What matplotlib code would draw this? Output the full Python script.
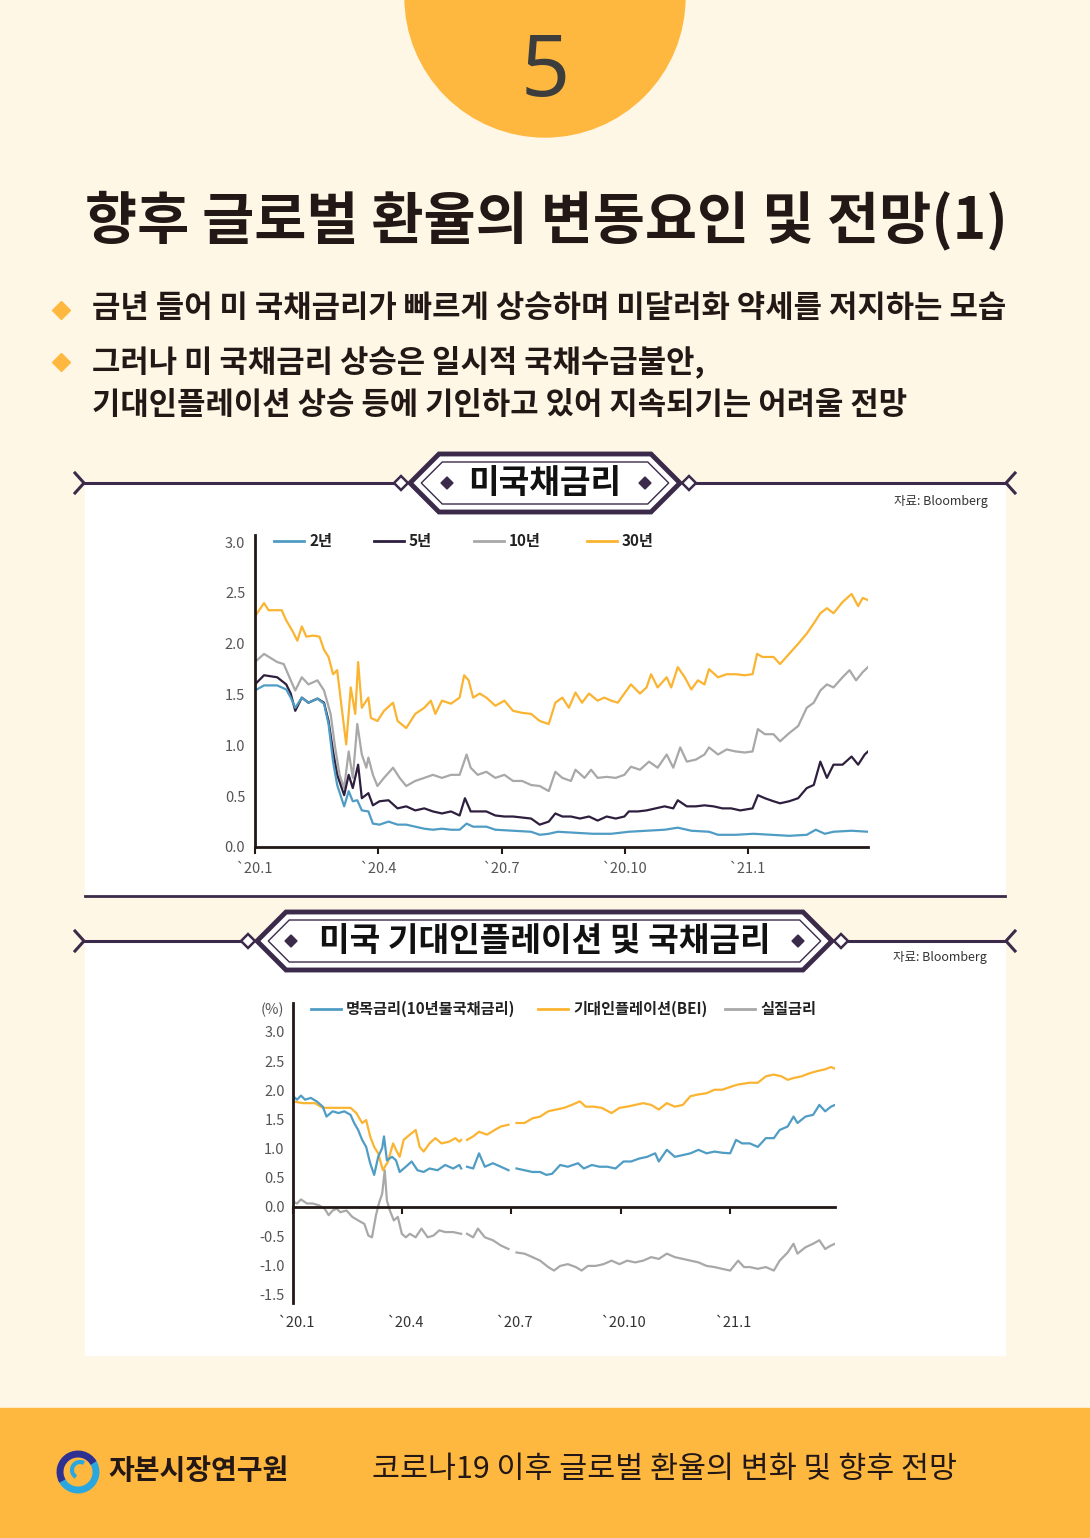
import numpy as np
import matplotlib.pyplot as plt
import matplotlib.patches as patches

plt.rcParams['font.family'] = ['Noto Sans CJK KR', 'DejaVu Sans']

W, H = 1090, 1538
nan = np.nan

# ---- 미국채금리 (months since Jan 2020) ----
m30 = [0, 0.22, 0.33, 0.49, 0.65, 0.76, 0.92, 1.03, 1.14, 1.25, 1.41, 1.57, 1.68, 1.79, 1.90, 2.00, 2.11, 2.22, 2.33, 2.44,
       2.51, 2.60, 2.76, 2.82, 2.98, 3.14, 3.36, 3.47, 3.68, 3.90, 4.12, 4.28, 4.39, 4.55, 4.77, 4.98, 5.09, 5.20, 5.31, 5.47,
       5.63, 5.85, 6.07, 6.28, 6.50, 6.72, 6.93, 7.15, 7.31, 7.48, 7.64, 7.80, 7.96, 8.13, 8.34, 8.50, 8.67, 8.83, 8.99, 9.15,
       9.37, 9.53, 9.64, 9.80, 10.02, 10.13, 10.29, 10.46, 10.62, 10.78, 10.94, 11.05, 11.27, 11.48, 11.70, 11.92, 12.11, 12.22,
       12.35, 12.62, 12.78, 13.00, 13.22, 13.43, 13.60, 13.76, 13.92, 14.08, 14.30, 14.52, 14.68, 14.79, 14.92]
y30 = [2.27, 2.40, 2.33, 2.33, 2.33, 2.23, 2.12, 2.03, 2.17, 2.07, 2.08, 2.07, 1.94, 1.87, 1.70, 1.74, 1.37, 1.01, 1.57, 1.31,
       1.82, 1.37, 1.47, 1.27, 1.24, 1.34, 1.42, 1.24, 1.17, 1.31, 1.37, 1.44, 1.31, 1.44, 1.41, 1.47, 1.69, 1.64, 1.47, 1.51,
       1.47, 1.39, 1.44, 1.34, 1.32, 1.31, 1.24, 1.21, 1.42, 1.47, 1.37, 1.52, 1.42, 1.51, 1.44, 1.47, 1.44, 1.42, 1.51, 1.60,
       1.51, 1.57, 1.70, 1.57, 1.67, 1.57, 1.77, 1.67, 1.55, 1.64, 1.60, 1.75, 1.67, 1.70, 1.70, 1.69, 1.70, 1.90,
       1.87, 1.87, 1.80, 1.90, 2.00, 2.10, 2.20, 2.30, 2.35, 2.30, 2.41, 2.49, 2.37, 2.45, 2.43]

m10 = [0, 0.22, 0.54, 0.70, 0.87, 0.98, 1.14, 1.30, 1.52, 1.68, 1.84, 1.95, 2.06, 2.17, 2.28, 2.38, 2.49, 2.60, 2.71, 2.76,
       2.87, 2.98, 3.14, 3.36, 3.52, 3.68, 3.90, 4.12, 4.33, 4.55, 4.77, 4.98, 5.15, 5.25, 5.42, 5.63, 5.85, 6.07, 6.28, 6.50,
       6.72, 6.93, 7.15, 7.31, 7.48, 7.69, 7.80, 8.02, 8.18, 8.34, 8.56, 8.78, 8.99, 9.15, 9.37, 9.59, 9.80, 10.02, 10.18, 10.35,
       10.51, 10.73, 10.94, 11.05, 11.27, 11.48, 11.70, 11.92, 12.11, 12.24, 12.41, 12.62, 12.78, 13.00, 13.22, 13.43, 13.60,
       13.76, 13.92, 14.08, 14.30, 14.47, 14.63, 14.79, 14.92]
y10 = [1.82, 1.90, 1.82, 1.80, 1.64, 1.54, 1.67, 1.60, 1.64, 1.54, 1.31, 0.98, 0.71, 0.58, 0.94, 0.68, 1.21, 0.91, 0.78, 0.88,
       0.71, 0.60, 0.68, 0.78, 0.68, 0.60, 0.65, 0.68, 0.71, 0.68, 0.71, 0.71, 0.91, 0.78, 0.71, 0.74, 0.68, 0.71, 0.65, 0.65,
       0.61, 0.60, 0.55, 0.74, 0.68, 0.65, 0.76, 0.68, 0.76, 0.68, 0.69, 0.68, 0.71, 0.79, 0.76, 0.84, 0.78, 0.91, 0.78, 0.98,
       0.84, 0.86, 0.91, 0.98, 0.91, 0.96, 0.94, 0.93, 0.94, 1.16, 1.11, 1.11, 1.04, 1.12, 1.19, 1.37, 1.42,
       1.54, 1.60, 1.57, 1.67, 1.74, 1.64, 1.72, 1.77]

m5 = [0, 0.22, 0.54, 0.76, 0.87, 0.98, 1.14, 1.30, 1.52, 1.68, 1.79, 1.90, 2.00, 2.17, 2.28, 2.38, 2.51, 2.60, 2.76, 2.87,
      3.03, 3.25, 3.47, 3.68, 3.90, 4.12, 4.33, 4.55, 4.77, 4.98, 5.11, 5.25, 5.42, 5.63, 5.85, 6.07, 6.28, 6.50, 6.72, 6.93,
      7.15, 7.31, 7.48, 7.69, 7.91, 8.13, 8.34, 8.56, 8.78, 8.99, 9.10, 9.32, 9.53, 9.75, 9.97, 10.18, 10.29, 10.51, 10.73, 10.94,
      11.16, 11.38, 11.59, 11.81, 12.11, 12.24, 12.41, 12.62, 12.78, 13.00, 13.22, 13.43, 13.60, 13.76, 13.92, 14.08, 14.30,
      14.52, 14.68, 14.84, 14.92]
y5 = [1.60, 1.69, 1.67, 1.60, 1.51, 1.34, 1.47, 1.42, 1.46, 1.42, 1.24, 0.94, 0.71, 0.51, 0.71, 0.58, 0.81, 0.48, 0.53, 0.41,
      0.45, 0.46, 0.38, 0.40, 0.36, 0.38, 0.35, 0.33, 0.35, 0.31, 0.48, 0.35, 0.35, 0.35, 0.31, 0.30, 0.30, 0.29, 0.28, 0.22,
      0.25, 0.33, 0.30, 0.30, 0.28, 0.30, 0.26, 0.30, 0.28, 0.30, 0.35, 0.35, 0.36, 0.38, 0.40, 0.38, 0.46, 0.40, 0.40, 0.41,
      0.40, 0.38, 0.38, 0.36, 0.38, 0.51, 0.48, 0.45, 0.43, 0.45, 0.48, 0.58, 0.61, 0.84, 0.68, 0.81, 0.81,
      0.89, 0.81, 0.91, 0.94]

m2 = [0, 0.22, 0.54, 0.76, 0.87, 0.98, 1.14, 1.30, 1.52, 1.68, 1.79, 1.90, 2.00, 2.17, 2.28, 2.38, 2.49, 2.60, 2.76, 2.87,
      3.03, 3.25, 3.47, 3.68, 3.90, 4.12, 4.33, 4.55, 4.77, 4.98, 5.15, 5.31, 5.63, 5.85, 6.28, 6.72, 6.93, 7.15, 7.37, 7.80,
      8.23, 8.67, 9.10, 9.53, 9.97, 10.29, 10.62, 11.05, 11.27, 11.70, 12.13, 12.57, 13.00, 13.43, 13.65, 13.87, 14.08, 14.52, 14.92]
y2 = [1.54, 1.59, 1.59, 1.55, 1.47, 1.37, 1.47, 1.42, 1.46, 1.41, 1.21, 0.84, 0.61, 0.40, 0.55, 0.45, 0.46, 0.36, 0.35, 0.23,
      0.22, 0.25, 0.22, 0.22, 0.20, 0.18, 0.17, 0.18, 0.17, 0.17, 0.23, 0.20, 0.20, 0.17, 0.16, 0.15, 0.12, 0.13, 0.15, 0.14,
      0.13, 0.13, 0.15, 0.16, 0.17, 0.19, 0.16, 0.15, 0.12, 0.12, 0.13, 0.12, 0.11, 0.12, 0.17, 0.13, 0.15, 0.16, 0.15]

# ---- 미국 기대인플레이션 및 국채금리 ----
m_nom = [0, 0.11, 0.22, 0.33, 0.49, 0.65, 0.82, 0.92, 1.09, 1.25, 1.41, 1.58, 1.68, 1.79, 1.90, 2.01, 2.12, 2.23, 2.34, 2.45,
         2.50, 2.58, 2.72, 2.83, 2.93, 3.10, 3.26, 3.42, 3.59, 3.75, 3.97, 4.18, 4.40, 4.57, 4.62, 4.70, 4.78, 4.95, 5.11, 5.27,
         5.49, 5.71, 5.92, 6.03, 6.14, 6.36, 6.58, 6.79, 6.96, 7.12, 7.34, 7.55, 7.83, 7.99, 8.21, 8.42, 8.64, 8.86, 9.08, 9.29,
         9.51, 9.73, 9.95, 10.05, 10.27, 10.49, 10.71, 10.92, 11.14, 11.36, 11.58, 11.79, 12.01, 12.17, 12.34, 12.55, 12.77,
         12.99, 13.21, 13.37, 13.59, 13.75, 13.86, 14.08, 14.29, 14.46, 14.62, 14.78, 14.89]
nominal = [1.90, 1.84, 1.91, 1.84, 1.87, 1.81, 1.72, 1.55, 1.64, 1.61, 1.64, 1.58, 1.44, 1.32, 1.15, 1.03, 0.75, 0.55, 0.86, 1.01,
           1.21, 0.80, 0.86, 0.80, 0.60, 0.69, 0.78, 0.63, 0.60, 0.66, 0.63, 0.72, 0.66, 0.72, 0.66, nan, 0.69, 0.66, 0.92, 0.69,
           0.75, 0.69, 0.63, nan, 0.66, 0.63, 0.60, 0.60, 0.55, 0.57, 0.72, 0.69, 0.75, 0.66, 0.72, 0.69, 0.69, 0.66, 0.78, 0.78,
           0.83, 0.86, 0.92, 0.78, 0.98, 0.86, 0.89, 0.92, 0.98, 0.92, 0.95, 0.93, 0.92, 1.15, 1.09, 1.09, 1.03,
           1.18, 1.18, 1.32, 1.38, 1.55, 1.44, 1.55, 1.58, 1.75, 1.64, 1.72, 1.75]

m_bei = [0, 0.27, 0.60, 0.82, 1.14, 1.58, 1.74, 1.90, 2.01, 2.12, 2.23, 2.34, 2.47, 2.61, 2.75, 2.83, 2.93, 3.04, 3.21, 3.37,
         3.48, 3.59, 3.75, 3.91, 4.08, 4.29, 4.46, 4.57, 4.62, 4.70, 4.78, 4.95, 5.11, 5.33, 5.54, 5.71, 5.92, 6.03, 6.14, 6.36,
         6.58, 6.79, 7.01, 7.23, 7.45, 7.66, 7.88, 8.04, 8.26, 8.48, 8.75, 8.97, 9.18, 9.40, 9.62, 9.84, 10.05, 10.27, 10.49,
         10.71, 10.92, 11.14, 11.36, 11.58, 11.79, 12.07, 12.23, 12.55, 12.77, 12.99, 13.21, 13.42, 13.59, 13.75, 13.97, 14.18,
         14.40, 14.62, 14.78, 14.89]
bei = [1.81, 1.78, 1.78, 1.70, 1.70, 1.70, 1.61, 1.44, 1.49, 1.21, 1.03, 0.92, 0.63, 0.78, 1.09, 0.98, 0.86, 1.15, 1.24, 1.32,
       1.03, 0.95, 1.09, 1.18, 1.09, 1.12, 1.18, 1.12, 1.15, nan, 1.15, 1.21, 1.29, 1.24, 1.32, 1.38, 1.41, nan, 1.44, 1.44,
       1.52, 1.55, 1.64, 1.67, 1.70, 1.75, 1.81, 1.72, 1.72, 1.70, 1.61, 1.70, 1.72, 1.75, 1.78, 1.75, 1.67, 1.78, 1.72,
       1.75, 1.90, 1.93, 1.95, 2.01, 2.01, 2.07, 2.10, 2.13, 2.13, 2.24, 2.27, 2.24, 2.18, 2.21, 2.24, 2.29,
       2.33, 2.36, 2.40, 2.37]

m_real = [0, 0.11, 0.22, 0.38, 0.54, 0.71, 0.87, 0.98, 1.09, 1.20, 1.30, 1.47, 1.63, 1.79, 1.96, 2.07, 2.17, 2.28, 2.36, 2.45,
          2.52, 2.58, 2.66, 2.77, 2.88, 2.99, 3.10, 3.21, 3.37, 3.53, 3.70, 3.86, 4.02, 4.18, 4.40, 4.62, 4.70, 4.78, 4.95, 5.08,
          5.27, 5.49, 5.71, 5.92, 6.03, 6.14, 6.36, 6.58, 6.79, 7.01, 7.17, 7.34, 7.55, 7.77, 7.93, 8.10, 8.32, 8.53, 8.75, 8.97,
          9.18, 9.40, 9.62, 9.84, 10.05, 10.27, 10.49, 10.71, 10.92, 11.14, 11.36, 11.58, 11.79, 12.01, 12.23, 12.39, 12.55,
          12.77, 12.99, 13.21, 13.37, 13.59, 13.75, 13.86, 14.08, 14.29, 14.46, 14.62, 14.78, 14.89]
real = [0.09, 0.06, 0.13, 0.06, 0.06, 0.03, -0.03, -0.14, -0.06, -0.03, -0.09, -0.06, -0.17, -0.23, -0.29, -0.49, -0.52, -0.14, 0.06, 0.23,
        0.63, 0.11, -0.06, -0.23, -0.17, -0.46, -0.52, -0.46, -0.52, -0.37, -0.52, -0.49, -0.40, -0.43, -0.43, -0.46, nan, -0.46, -0.52, -0.37,
        -0.52, -0.57, -0.66, -0.72, nan, -0.78, -0.80, -0.86, -0.92, -1.03, -1.09, -1.01, -0.98, -1.03, -1.09, -1.01, -1.01, -0.98, -0.92, -0.98,
        -0.92, -0.95, -0.92, -0.86, -0.89, -0.80, -0.86, -0.89, -0.92, -0.95, -1.01, -1.03, -1.06, -1.09, -0.92, -1.03, -1.03,
        -1.06, -1.03, -1.09, -0.92, -0.78, -0.63, -0.80, -0.69, -0.63, -0.57, -0.72, -0.66, -0.63]

tick_months = [0, 3, 6, 9, 12]
tick_labels = ['`20.1', '`20.4', '`20.7', '`20.10', '`21.1']

BLUE, DARK, GRAY, ORANGE = '#4f9cc4', '#2e1f3e', '#a8a8a8', '#fbb431'
CREAM, YELLOW, INK, PURPLE = '#fff7e6', '#ffb83f', '#231815', '#3b2a4a'

fig = plt.figure(figsize=(W / 100, H / 100), dpi=100)
fig.patch.set_facecolor(CREAM)
bg = fig.add_axes([0, 0, 1, 1])
bg.set_xlim(0, W)
bg.set_ylim(H, 0)
bg.axis('off')

# top circle + number
bg.add_patch(patches.Circle((545, -3), 140, color=YELLOW, zorder=1))
bg.text(545, 74, '5', fontsize=62, color='#3d3d3d', ha='center', va='center', family=['Noto Sans', 'DejaVu Sans'])

bg.text(546, 220, '향후 글로벌 환율의 변동요인 및 전망(1)', fontsize=40.8, weight='black', color=INK,
        ha='center', va='center')

for yy in [310, 362]:
    bg.plot(61, yy, marker='D', ms=9, color=YELLOW, mec=YELLOW)
bg.text(92, 308, '금년 들어 미 국채금리가 빠르게 상승하며 미달러화 약세를 저지하는 모습', fontsize=22.2, weight='bold',
        color=INK, va='center')
bg.text(92, 362, '그러나 미 국채금리 상승은 일시적 국채수급불안,', fontsize=22.2, weight='bold', color=INK, va='center')
bg.text(92, 405, '기대인플레이션 상승 등에 기인하고 있어 지속되기는 어려울 전망', fontsize=22.2, weight='bold',
        color=INK, va='center')

# white panels
bg.add_patch(patches.Rectangle((85, 483), 920, 413, color='white', zorder=0.5))
bg.add_patch(patches.Rectangle((85, 941), 920, 414, color='white', zorder=0.5))
bg.plot([85, 1005], [896, 896], color=PURPLE, lw=2)

# footer
bg.add_patch(patches.Rectangle((0, 1408), W, 130, color=YELLOW, zorder=0.5))
bg.add_patch(patches.Arc((78, 1472), 36, 36, theta1=-40, theta2=160, color='#2aa7df', lw=5, zorder=2))
bg.add_patch(patches.Arc((78, 1472), 36, 36, theta1=150, theta2=330, color='#2e3192', lw=5, zorder=2))
bg.add_patch(patches.Arc((80, 1470), 16, 16, theta1=120, theta2=300, color='#2aa7df', lw=3, zorder=2))
bg.text(108, 1471, '자본시장연구원', fontsize=20.2, weight='bold', color=INK, va='center')
bg.text(372, 1469, '코로나19 이후 글로벌 환율의 변화 및 향후 전망', fontsize=21.9, color=INK, va='center')


def header(y, xl, xr, title, fx1, fx2):
    # long lines with chevron ends
    bg.plot([84, xl - 16], [y, y], color=PURPLE, lw=2.2, zorder=3)
    bg.plot([xr + 16, 1006], [y, y], color=PURPLE, lw=2.2, zorder=3)
    bg.plot([75, 84, 75], [y - 10, y, y + 10], color=PURPLE, lw=2.2, zorder=3)
    bg.plot([1015, 1006, 1015], [y - 10, y, y + 10], color=PURPLE, lw=2.2, zorder=3)
    # hollow diamonds
    for cx in [xl - 9, xr + 9]:
        bg.add_patch(patches.Polygon([(cx - 7, y), (cx, y - 7), (cx + 7, y), (cx, y + 7)], closed=True,
                                     fc='white', ec=PURPLE, lw=1.8, zorder=4))
    h = 29
    outer = [(xl, y), (xl + h, y - h), (xr - h, y - h), (xr, y), (xr - h, y + h), (xl + h, y + h)]
    bg.add_patch(patches.Polygon(outer, closed=True, fc='white', ec=PURPLE, lw=3.5, zorder=4))
    d = 8
    inner = [(xl + d * 1.41, y), (xl + h + d * 0.41, y - h + d), (xr - h - d * 0.41, y - h + d), (xr - d * 1.41, y),
             (xr - h - d * 0.41, y + h - d), (xl + h + d * 0.41, y + h - d)]
    bg.add_patch(patches.Polygon(inner, closed=True, fill=False, ec=PURPLE, lw=1.0, zorder=5))
    for cx in [fx1, fx2]:
        bg.add_patch(patches.Polygon([(cx - 6, y), (cx, y - 6), (cx + 6, y), (cx, y + 6)], closed=True,
                                     color=PURPLE, zorder=5))
    bg.text((xl + xr) / 2, y + 1, title, fontsize=24, weight='black', color='#111111', ha='center', va='center',
            zorder=6)


header(483, 410, 680, '미국채금리', 447, 645)
header(941, 257, 832, '미국 기대인플레이션 및 국채금리', 291, 798)
bg.text(988, 501, '자료: Bloomberg', fontsize=9, color='#333333', ha='right', va='center')
bg.text(987, 958, '자료: Bloomberg', fontsize=9, color='#333333', ha='right', va='center')

# legends
def legend_item(x, y, color, label):
    bg.plot([x, x + 30], [y, y], color=color, lw=2, zorder=3)
    bg.text(x + 35, y, label, fontsize=11, weight='bold', color='#222222', va='center')


for x, c, lab in [(274, BLUE, '2년'), (374, DARK, '5년'), (474, GRAY, '10년'), (587, ORANGE, '30년')]:
    legend_item(x, 541, c, lab)
for x, c, lab in [(311, BLUE, '명목금리(10년물국채금리)'), (538, ORANGE, '기대인플레이션(BEI)'), (725, GRAY, '실질금리')]:
    legend_item(x, 1009, c, lab)

# ---- chart 1 ----
ax1 = fig.add_axes([255 / W, 1 - 847 / H, (868 - 255) / W, (847 - 535) / H])
ax1.patch.set_alpha(0)
ax1.plot(m30, y30, color=ORANGE, lw=1.6)
ax1.plot(m10, y10, color=GRAY, lw=1.6)
ax1.plot(m5, y5, color=DARK, lw=1.6)
ax1.plot(m2, y2, color=BLUE, lw=1.6)
ax1.set_xlim(0, 14.92)
ax1.set_ylim(0, 3.07)
for s in ['top', 'right']:
    ax1.spines[s].set_visible(False)
for s in ['left', 'bottom']:
    ax1.spines[s].set_color(INK)
    ax1.spines[s].set_linewidth(2)
ax1.set_yticks(np.arange(0, 3.01, 0.5))
ax1.set_yticklabels(['%.1f' % v for v in np.arange(0, 3.01, 0.5)])
ax1.set_xticks(tick_months)
ax1.set_xticklabels(tick_labels)
ax1.tick_params(axis='y', length=0, pad=7, labelsize=10.5, labelcolor='#555555')
ax1.tick_params(axis='x', length=5, width=1.5, color=INK, pad=6, labelsize=10.5, labelcolor='#555555')

# ---- chart 2 ----
ax2 = fig.add_axes([293 / W, 1 - 1303 / H, (835 - 293) / W, (1303 - 1003) / H])
ax2.patch.set_alpha(0)
ax2.plot(m_real, real, color=GRAY, lw=1.6)
ax2.plot(m_bei, bei, color=ORANGE, lw=1.6)
ax2.plot(m_nom, nominal, color=BLUE, lw=1.6)
ax2.set_xlim(0, 14.89)
ax2.set_ylim(-1.646, 3.497)
for s in ['top', 'right']:
    ax2.spines[s].set_visible(False)
for s in ['left', 'bottom']:
    ax2.spines[s].set_color(INK)
    ax2.spines[s].set_linewidth(2)
ax2.spines['bottom'].set_position(('data', 0))
yt = np.arange(-1.5, 3.01, 0.5)
ax2.set_yticks(yt)
ax2.set_yticklabels(['%.1f' % v for v in yt])
ax2.set_xticks(tick_months)
ax2.tick_params(axis='y', length=0, pad=6, labelsize=10.5, labelcolor='#555555')
ax2.tick_params(axis='x', length=5, width=1.5, color=INK, labelbottom=False)
for m, lab in zip(tick_months, tick_labels):
    ax2.text(m + 0.1, -0.067, lab, transform=ax2.get_xaxis_transform(), fontsize=10.5, color='#333333',
             ha='center', va='center')
bg.text(272, 1010, '(%)', fontsize=10.5, color='#555555', ha='center', va='center')

fig.savefig('out.png', dpi=100, facecolor=CREAM)
